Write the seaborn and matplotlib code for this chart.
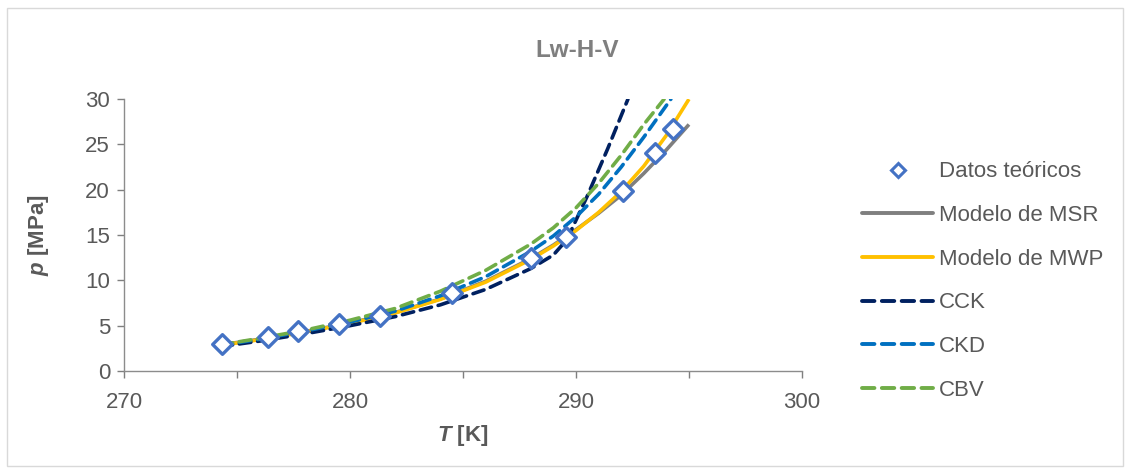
import numpy as np
import pandas as pd
import matplotlib
matplotlib.use('Agg')
import matplotlib.pyplot as plt
from matplotlib.lines import Line2D
from matplotlib.patches import Rectangle
import seaborn as sns

# Datos teóricos (T en K, p en MPa)
t_datos = [274.34, 276.38, 277.71, 279.53, 281.34, 284.53, 288.03, 289.58, 292.06, 293.48, 294.28]
p_datos = [2.98, 3.75, 4.41, 5.18, 6.06, 8.6, 12.46, 14.77, 19.85, 24.04, 26.68]

# curvas de los modelos
t_msr = [274.3, 276, 278, 280, 282, 284, 286, 288, 289, 290, 291, 292, 293, 294, 295.0]
p_msr = [2.9, 3.5, 4.35, 5.3, 6.45, 7.95, 9.9, 12.4, 13.9, 15.6, 17.4, 19.4, 21.8, 24.4, 27.2]

t_mwp = [274.3, 276, 278, 280, 282, 284, 286, 288, 289, 290, 291, 292, 293, 294, 295.0]
p_mwp = [2.85, 3.45, 4.3, 5.25, 6.4, 7.9, 9.8, 12.3, 13.8, 15.5, 17.5, 19.8, 22.6, 26.0, 30.0]

t_cck = [274.3, 276, 278, 280, 282, 284, 286, 288, 289, 289.6, 290.5, 291.4, 292.3]
p_cck = [2.7, 3.3, 4.1, 5.0, 6.0, 7.3, 9.0, 11.3, 12.8, 14.5, 19.3, 24.5, 30.0]

t_ckd = [274.3, 276, 278, 280, 282, 284, 286, 288, 289, 290, 291, 292, 293, 294.2]
p_ckd = [2.85, 3.5, 4.4, 5.4, 6.6, 8.3, 10.4, 13.2, 14.9, 17.0, 19.5, 22.5, 25.8, 30.0]

t_cbv = [274.3, 276, 278, 280, 282, 284, 286, 288, 289, 290, 291, 292, 293, 293.9]
p_cbv = [2.9, 3.6, 4.5, 5.6, 6.9, 8.8, 11.1, 14.0, 15.8, 18.0, 20.7, 23.8, 27.2, 30.0]

modelos = ['Modelo de MSR', 'Modelo de MWP', 'CCK', 'CKD', 'CBV']
curvas = [(t_msr, p_msr), (t_mwp, p_mwp), (t_cck, p_cck), (t_ckd, p_ckd), (t_cbv, p_cbv)]
colores = {'Modelo de MSR': '#7F7F7F', 'Modelo de MWP': '#FFC000',
           'CCK': '#002060', 'CKD': '#0070C0', 'CBV': '#70AD47'}
dashes = {'Modelo de MSR': '', 'Modelo de MWP': '',
          'CCK': (3.2, 1.9), 'CKD': (3.2, 1.9), 'CBV': (3.2, 1.9)}

df = pd.concat([pd.DataFrame({'T': t, 'p': p, 'modelo': m})
                for m, (t, p) in zip(modelos, curvas)], ignore_index=True)
datos = pd.DataFrame({'T': t_datos, 'p': p_datos})

sns.set_style('white')
plt.rcParams['font.family'] = ['Liberation Sans', 'DejaVu Sans']
plt.rcParams['mathtext.fontset'] = 'custom'
plt.rcParams['mathtext.bfit'] = 'Liberation Sans:italic:bold'
plt.rcParams['mathtext.it'] = 'Liberation Sans:italic'
plt.rcParams['mathtext.rm'] = 'Liberation Sans'

gris = '#595959'
fs = 16
fig = plt.figure(figsize=(11.3, 4.72), dpi=100)
ax = fig.add_axes([0.1097, 0.214, 0.600, 0.576])

sns.lineplot(data=df, x='T', y='p', hue='modelo', style='modelo', palette=colores,
             dashes=dashes, sort=False, estimator=None, units='modelo', lw=2.6,
             legend=False, ax=ax)
for line in ax.lines:
    line.set_dash_capstyle('round')
    line.set_solid_capstyle('butt')

sns.scatterplot(data=datos, x='T', y='p', marker='D', s=100, facecolor='white',
                edgecolor='#4472C4', linewidth=2.4, zorder=5, ax=ax, clip_on=False)

ax.set_xlim(270, 300)
ax.set_ylim(0, 30)
ax.set_xticks([270, 280, 290, 300])
ax.set_xticks([275, 285, 295], minor=True)
ax.set_yticks(range(0, 31, 5))
ax.tick_params(axis='both', which='both', direction='out', length=5, width=1,
               color='#7F7F7F', labelsize=fs, labelcolor=gris)
ax.tick_params(axis='x', which='both', bottom=True, pad=10)
ax.tick_params(axis='y', left=True, pad=5)
for s in ['top', 'right']:
    ax.spines[s].set_visible(False)
for s in ['left', 'bottom']:
    ax.spines[s].set_color('#8C8C8C')
    ax.spines[s].set_linewidth(1)

ax.set_xlabel(r'$\bfit{T}$ [K]', fontsize=fs, fontweight='bold', color=gris)
ax.set_ylabel(r'$\bfit{p}$ [MPa]', fontsize=fs, fontweight='bold', color=gris)
ax.xaxis.set_label_coords(0.5, -0.192)
ax.yaxis.set_label_coords(-0.107, 0.5)

fig.text(0.511, 0.893, 'Lw-H-V', ha='center', va='center', fontsize=17.5,
         fontweight='bold', color='#7F7F7F')

handles = [Line2D([], [], ls='none', marker='D', ms=7.5, mfc='white', mec='#4472C4', mew=2.2)]
for m in modelos:
    d = dashes[m]
    handles.append(Line2D([], [], color=colores[m], lw=2.8,
                          ls='-' if d == '' else (0, d), dash_capstyle='round'))
leg = fig.legend(handles, ['Datos teóricos'] + modelos, loc='upper left',
                 bbox_to_anchor=(0.755, 0.677), frameon=False, fontsize=fs,
                 handlelength=3.2, handletextpad=0.28, labelspacing=1.02,
                 borderaxespad=0)
for txt in leg.get_texts():
    txt.set_color(gris)

fig.patches.append(Rectangle((0.006, 0.012), 0.988, 0.972, transform=fig.transFigure,
                             fill=False, edgecolor='#D9D9D9', lw=1))

fig.savefig('out.png', dpi=100)
